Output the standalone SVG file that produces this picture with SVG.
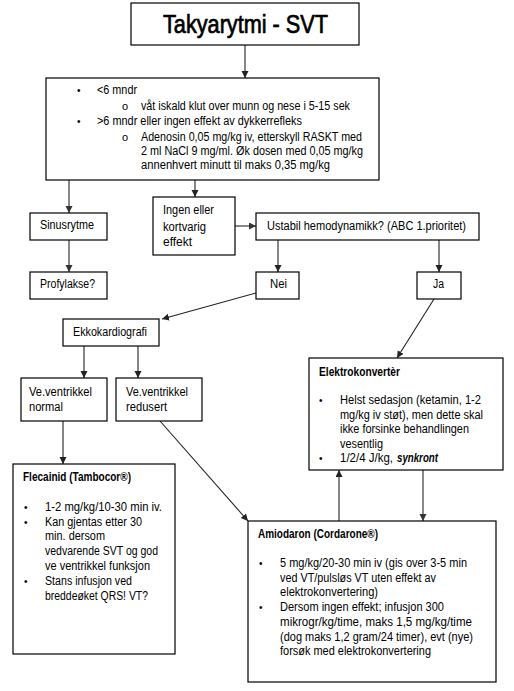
<svg xmlns="http://www.w3.org/2000/svg" width="514" height="691" viewBox="0 0 514 691">
<defs>
<marker id="ah" markerUnits="userSpaceOnUse" markerWidth="8" markerHeight="8" refX="7" refY="3.5" orient="auto">
<path d="M0,0 L7,3.5 L0,7 z" fill="#222"/>
</marker>
<marker id="ahg" markerUnits="userSpaceOnUse" markerWidth="8" markerHeight="8" refX="7" refY="3.5" orient="auto">
<path d="M0,0 L7,3.5 L0,7 z" fill="#333"/>
</marker>
<style>
rect{fill:#fff;stroke:#000;stroke-width:1.2}
text{font-family:"Liberation Sans",Arial,sans-serif;font-size:12px;fill:#000}
.b{font-weight:bold}
.bi{font-weight:bold;font-style:italic}
.t{font-size:25px;stroke:#000;stroke-width:0.7}
.c{stroke:#222;stroke-width:1.1;fill:none;marker-end:url(#ah)}
.g{stroke:#6a6a6a;stroke-width:1.6;fill:none;marker-end:url(#ahg)}
.bu{font-size:10px}
.o{font-size:11px}
</style>
</defs>
<rect width="514" height="691" fill="#fff" style="stroke:none"/>

<g id="connectors">
<line class="c" x1="245" y1="45" x2="245" y2="78"/>
<line class="g" x1="69" y1="180" x2="69" y2="213"/>
<line class="g" x1="69" y1="240" x2="69" y2="272"/>
<line class="c" x1="195" y1="180" x2="195" y2="197"/>
<line class="g" x1="235" y1="226" x2="256" y2="226"/>
<line class="c" x1="278" y1="240" x2="278" y2="272"/>
<line class="c" x1="439" y1="240" x2="439" y2="272"/>
<line class="c" x1="256" y1="293" x2="162" y2="319"/>
<line class="c" x1="434" y1="299" x2="397" y2="358"/>
<line class="c" x1="84" y1="346" x2="84" y2="378"/>
<line class="c" x1="138" y1="346" x2="138" y2="378"/>
<line class="c" x1="63" y1="421" x2="63" y2="464"/>
<line class="c" x1="160" y1="421" x2="248" y2="521"/>
<line class="c" x1="339" y1="521" x2="339" y2="470"/>
<line class="g" x1="423" y1="470" x2="423" y2="521"/>
</g>

<g id="title">
<rect x="131" y="3" width="228" height="42"/>
<text class="t" x="163" y="33" textLength="165" lengthAdjust="spacingAndGlyphs">Takyarytmi - SVT</text>
</g>

<g id="main">
<rect x="46" y="78" width="333" height="102"/>
<text class="bu" x="77" y="94">•</text>
<text x="97" y="94" textLength="40" lengthAdjust="spacingAndGlyphs">&lt;6 mndr</text>
<text class="o" x="122" y="110">o</text>
<text x="141" y="110" textLength="209" lengthAdjust="spacingAndGlyphs">våt iskald klut over munn og nese i 5-15 sek</text>
<text class="bu" x="77" y="125">•</text>
<text x="97" y="125" textLength="205" lengthAdjust="spacingAndGlyphs">&gt;6 mndr eller ingen effekt av dykkerrefleks</text>
<text class="o" x="122" y="141">o</text>
<text x="141" y="141" textLength="221" lengthAdjust="spacingAndGlyphs">Adenosin 0,05 mg/kg iv, etterskyll RASKT med</text>
<text x="141" y="155" textLength="222" lengthAdjust="spacingAndGlyphs">2 ml NaCl 9 mg/ml. Øk dosen med 0,05 mg/kg</text>
<text x="141" y="169" textLength="189" lengthAdjust="spacingAndGlyphs">annenhvert minutt til maks 0,35 mg/kg</text>
</g>

<g id="sinus">
<rect x="30" y="213" width="77" height="27"/>
<text x="40" y="229" textLength="54" lengthAdjust="spacingAndGlyphs">Sinusrytme</text>
</g>

<g id="profylakse">
<rect x="30" y="272" width="77" height="27"/>
<text x="40" y="288" textLength="55" lengthAdjust="spacingAndGlyphs">Profylakse?</text>
</g>

<g id="ingen">
<rect x="153" y="197" width="82" height="58"/>
<text x="163" y="214" textLength="51" lengthAdjust="spacingAndGlyphs">Ingen eller</text>
<text x="163" y="231" textLength="43" lengthAdjust="spacingAndGlyphs">kortvarig</text>
<text x="163" y="246" textLength="29" lengthAdjust="spacingAndGlyphs">effekt</text>
</g>

<g id="ustabil">
<rect x="256" y="213" width="223" height="27"/>
<text x="267" y="230" textLength="199" lengthAdjust="spacingAndGlyphs">Ustabil hemodynamikk? (ABC 1.prioritet)</text>
</g>

<g id="nei">
<rect x="256" y="272" width="43" height="27"/>
<text x="270" y="288" textLength="17" lengthAdjust="spacingAndGlyphs">Nei</text>
</g>

<g id="ja">
<rect x="417" y="272" width="44" height="27"/>
<text x="433" y="288" textLength="11" lengthAdjust="spacingAndGlyphs">Ja</text>
</g>

<g id="ekko">
<rect x="63" y="319" width="96" height="27"/>
<text x="73" y="336" textLength="74" lengthAdjust="spacingAndGlyphs">Ekkokardiografi</text>
</g>

<g id="venormal">
<rect x="21" y="378" width="86" height="43"/>
<text x="29" y="396" textLength="63" lengthAdjust="spacingAndGlyphs">Ve.ventrikkel</text>
<text x="29" y="411" textLength="34" lengthAdjust="spacingAndGlyphs">normal</text>
</g>

<g id="veredusert">
<rect x="116" y="378" width="86" height="43"/>
<text x="126" y="396" textLength="62" lengthAdjust="spacingAndGlyphs">Ve.ventrikkel</text>
<text x="126" y="411" textLength="41" lengthAdjust="spacingAndGlyphs">redusert</text>
</g>

<g id="elektro">
<rect x="309" y="358" width="194" height="112"/>
<text class="b" x="319" y="376" textLength="81" lengthAdjust="spacingAndGlyphs">Elektrokonvertèr</text>
<text class="bu" x="319" y="404">•</text>
<text x="340" y="404" textLength="141" lengthAdjust="spacingAndGlyphs">Helst sedasjon (ketamin, 1-2</text>
<text x="340" y="419" textLength="143" lengthAdjust="spacingAndGlyphs">mg/kg iv støt), men dette skal</text>
<text x="340" y="433" textLength="129" lengthAdjust="spacingAndGlyphs">ikke forsinke behandlingen</text>
<text x="340" y="448" textLength="43" lengthAdjust="spacingAndGlyphs">vesentlig</text>
<text class="bu" x="319" y="462">•</text>
<text x="340" y="462" textLength="53" lengthAdjust="spacingAndGlyphs">1/2/4 J/kg,</text>
<text class="bi" x="397" y="462" textLength="41" lengthAdjust="spacingAndGlyphs">synkront</text>
</g>

<g id="flecainid">
<rect x="13" y="464" width="162" height="190"/>
<text class="b" x="23" y="481" textLength="108" lengthAdjust="spacingAndGlyphs">Flecainid (Tambocor®)</text>
<text class="bu" x="24" y="511">•</text>
<text x="45" y="511" textLength="117" lengthAdjust="spacingAndGlyphs">1-2 mg/kg/10-30 min iv.</text>
<text class="bu" x="24" y="526">•</text>
<text x="45" y="526" textLength="97" lengthAdjust="spacingAndGlyphs">Kan gjentas etter 30</text>
<text x="45" y="540" textLength="60" lengthAdjust="spacingAndGlyphs">min. dersom</text>
<text x="45" y="555" textLength="113" lengthAdjust="spacingAndGlyphs">vedvarende SVT og god</text>
<text x="45" y="570" textLength="105" lengthAdjust="spacingAndGlyphs">ve ventrikkel  funksjon</text>
<text class="bu" x="24" y="585">•</text>
<text x="45" y="585" textLength="87" lengthAdjust="spacingAndGlyphs">Stans infusjon ved</text>
<text x="45" y="600" textLength="103" lengthAdjust="spacingAndGlyphs">breddeøket QRS! VT?</text>
</g>

<g id="amiodaron">
<rect x="248" y="521" width="248" height="161"/>
<text class="b" x="258" y="538" textLength="120" lengthAdjust="spacingAndGlyphs">Amiodaron (Cordarone®)</text>
<text class="bu" x="259" y="567">•</text>
<text x="280" y="567" textLength="187" lengthAdjust="spacingAndGlyphs">5 mg/kg/20-30 min iv (gis over 3-5 min</text>
<text x="280" y="582" textLength="156" lengthAdjust="spacingAndGlyphs">ved VT/pulsløs VT uten  effekt av</text>
<text x="280" y="596" textLength="98" lengthAdjust="spacingAndGlyphs">elektrokonvertering)</text>
<text class="bu" x="259" y="611">•</text>
<text x="280" y="611" textLength="164" lengthAdjust="spacingAndGlyphs">Dersom ingen effekt; infusjon 300</text>
<text x="280" y="626" textLength="192" lengthAdjust="spacingAndGlyphs">mikrogr/kg/time, maks 1,5 mg/kg/time</text>
<text x="280" y="641" textLength="193" lengthAdjust="spacingAndGlyphs">(dog maks 1,2 gram/24 timer), evt (nye)</text>
<text x="280" y="655" textLength="151" lengthAdjust="spacingAndGlyphs">forsøk med elektrokonvertering</text>
</g>
</svg>
